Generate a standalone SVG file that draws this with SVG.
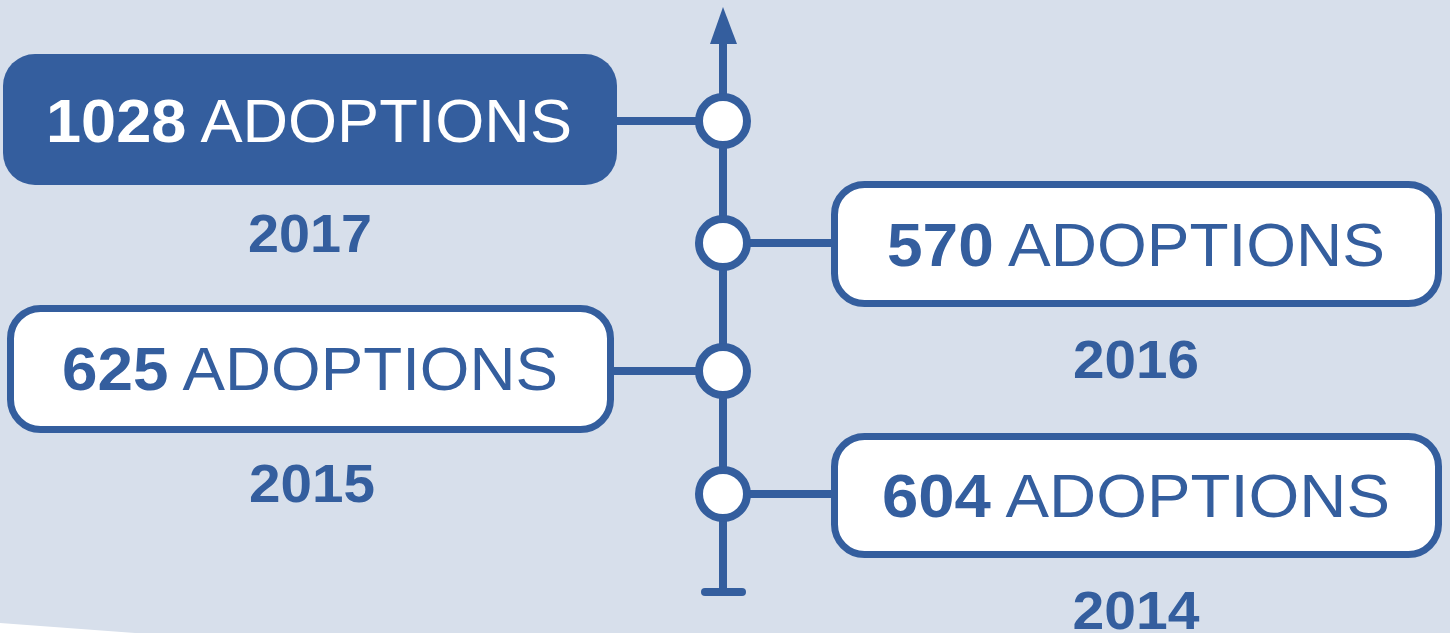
<svg xmlns="http://www.w3.org/2000/svg" width="1450" height="633" viewBox="0 0 1450 633">
<style>
.bg{fill:#d7dfeb}
.box{fill:#fff;stroke:#345e9e;stroke-width:7}
.boxf{fill:#345e9e}
.ln{stroke:#345e9e;stroke-width:8;fill:none}
.dot{fill:#fff;stroke:#345e9e;stroke-width:8}
.lbl{font-family:"Liberation Sans",Arial,sans-serif;font-size:62px;fill:#345e9e;text-anchor:middle}
.lbl .n{font-weight:bold}
.w{fill:#fff}
.yr{font-family:"Liberation Sans",Arial,sans-serif;font-size:53px;font-weight:bold;fill:#345e9e;text-anchor:middle}
</style>
<rect class="bg" x="0" y="0" width="1450" height="633"/>
<polygon points="0,623 135,633 0,633" fill="#fff"/>
<g id="connectors">
<line class="ln" x1="723" y1="40" x2="723" y2="592"/>
<polygon points="723,7 710,44 737,44" fill="#345e9e"/>
<line class="ln" x1="705" y1="592" x2="742" y2="592" stroke-linecap="round"/>
<line class="ln" x1="615" y1="121" x2="700" y2="121"/>
<line class="ln" x1="747" y1="243" x2="833" y2="243"/>
<line class="ln" x1="612" y1="371" x2="700" y2="371"/>
<line class="ln" x1="747" y1="494" x2="833" y2="494"/>
<circle class="dot" cx="723" cy="121" r="24"/>
<circle class="dot" cx="723" cy="243" r="24"/>
<circle class="dot" cx="723" cy="371" r="24"/>
<circle class="dot" cx="723" cy="494" r="24"/>
</g>
<g id="n2017">
<rect class="boxf" x="3" y="54" width="614" height="131" rx="32"/>
<text class="lbl w" x="309" y="142" textLength="526" lengthAdjust="spacingAndGlyphs"><tspan class="n">1028</tspan> ADOPTIONS</text>
<text class="yr" x="310" y="252" textLength="124" lengthAdjust="spacingAndGlyphs">2017</text>
</g>
<g id="n2016">
<rect class="box" x="834.5" y="184.5" width="604" height="119" rx="30"/>
<text class="lbl" x="1136" y="266" textLength="498" lengthAdjust="spacingAndGlyphs"><tspan class="n">570</tspan> ADOPTIONS</text>
<text class="yr" x="1136" y="378" textLength="126" lengthAdjust="spacingAndGlyphs">2016</text>
</g>
<g id="n2015">
<rect class="box" x="10.5" y="308.5" width="600" height="121" rx="30"/>
<text class="lbl" x="310" y="390" textLength="496" lengthAdjust="spacingAndGlyphs"><tspan class="n">625</tspan> ADOPTIONS</text>
<text class="yr" x="312" y="502" textLength="126" lengthAdjust="spacingAndGlyphs">2015</text>
</g>
<g id="n2014">
<rect class="box" x="834.5" y="436.5" width="604" height="118" rx="30"/>
<text class="lbl" x="1136" y="517" textLength="508" lengthAdjust="spacingAndGlyphs"><tspan class="n">604</tspan> ADOPTIONS</text>
<text class="yr" x="1136" y="629" textLength="127" lengthAdjust="spacingAndGlyphs">2014</text>
</g>
</svg>
